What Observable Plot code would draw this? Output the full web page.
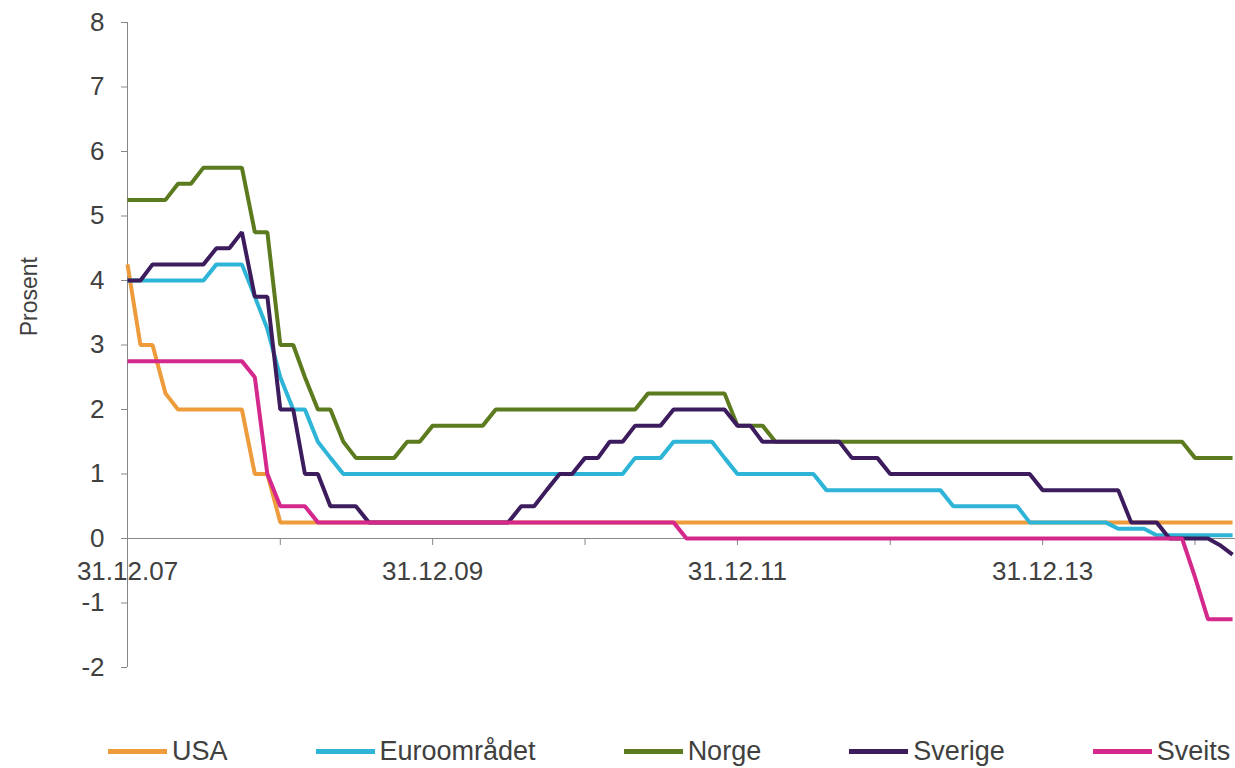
<!DOCTYPE html>
<html>
<head>
<meta charset="utf-8">
<script src="https://cdn.jsdelivr.net/npm/d3@7"></script>
<script src="https://cdn.jsdelivr.net/npm/@observablehq/plot@0.6"></script>
<style>
  body { margin: 0; background: #fff; font-family: "Liberation Sans", Arial, sans-serif; }
  #chart svg { display: block; }
  #legend { display: flex; align-items: center; padding-left: 108px; margin-top: 34px; height: 34px; }
  .item { display: flex; align-items: center; margin-right: 88px; }
  .sw { width: 59px; height: 5px; margin-right: 5px; }
  .lb { font-size: 27px; color: #404040; line-height: 1; }
</style>
</head>
<body>
<div id="chart"></div>
<div id="legend"></div>
<script>
// Month-end observation dates: 31.12.07 ... 31.03.15 (88 months)
const monthEnds = d3.utcMonth
  .range(new Date(Date.UTC(2008, 0, 1)), new Date(Date.UTC(2015, 3, 2)))
  .map(d => d3.utcDay.offset(d, -1));

const names = ["USA", "Euroområdet", "Norge", "Sverige", "Sveits"];
const colors = ["#EE9B3C", "#2DB4D6", "#5C7A1E", "#3D1C5E", "#D4288C"];

// Policy rates, one value per month (Dec 2007, then one row per year)
const usa = [4.25,
  3, 3, 2.25, 2, 2, 2, 2, 2, 2, 1, 1, 0.25,
  0.25, 0.25, 0.25, 0.25, 0.25, 0.25, 0.25, 0.25, 0.25, 0.25, 0.25, 0.25,
  0.25, 0.25, 0.25, 0.25, 0.25, 0.25, 0.25, 0.25, 0.25, 0.25, 0.25, 0.25,
  0.25, 0.25, 0.25, 0.25, 0.25, 0.25, 0.25, 0.25, 0.25, 0.25, 0.25, 0.25,
  0.25, 0.25, 0.25, 0.25, 0.25, 0.25, 0.25, 0.25, 0.25, 0.25, 0.25, 0.25,
  0.25, 0.25, 0.25, 0.25, 0.25, 0.25, 0.25, 0.25, 0.25, 0.25, 0.25, 0.25,
  0.25, 0.25, 0.25, 0.25, 0.25, 0.25, 0.25, 0.25, 0.25, 0.25, 0.25, 0.25,
  0.25, 0.25, 0.25];
const euro = [4,
  4, 4, 4, 4, 4, 4, 4.25, 4.25, 4.25, 3.75, 3.25, 2.5,
  2, 2, 1.5, 1.25, 1, 1, 1, 1, 1, 1, 1, 1,
  1, 1, 1, 1, 1, 1, 1, 1, 1, 1, 1, 1,
  1, 1, 1, 1.25, 1.25, 1.25, 1.5, 1.5, 1.5, 1.5, 1.25, 1,
  1, 1, 1, 1, 1, 1, 0.75, 0.75, 0.75, 0.75, 0.75, 0.75,
  0.75, 0.75, 0.75, 0.75, 0.5, 0.5, 0.5, 0.5, 0.5, 0.5, 0.25, 0.25,
  0.25, 0.25, 0.25, 0.25, 0.25, 0.15, 0.15, 0.15, 0.05, 0.05, 0.05, 0.05,
  0.05, 0.05, 0.05];
const norge = [5.25,
  5.25, 5.25, 5.25, 5.5, 5.5, 5.75, 5.75, 5.75, 5.75, 4.75, 4.75, 3,
  3, 2.5, 2, 2, 1.5, 1.25, 1.25, 1.25, 1.25, 1.5, 1.5, 1.75,
  1.75, 1.75, 1.75, 1.75, 2, 2, 2, 2, 2, 2, 2, 2,
  2, 2, 2, 2, 2.25, 2.25, 2.25, 2.25, 2.25, 2.25, 2.25, 1.75,
  1.75, 1.75, 1.5, 1.5, 1.5, 1.5, 1.5, 1.5, 1.5, 1.5, 1.5, 1.5,
  1.5, 1.5, 1.5, 1.5, 1.5, 1.5, 1.5, 1.5, 1.5, 1.5, 1.5, 1.5,
  1.5, 1.5, 1.5, 1.5, 1.5, 1.5, 1.5, 1.5, 1.5, 1.5, 1.5, 1.25,
  1.25, 1.25, 1.25];
const sverige = [4,
  4, 4.25, 4.25, 4.25, 4.25, 4.25, 4.5, 4.5, 4.75, 3.75, 3.75, 2,
  2, 1, 1, 0.5, 0.5, 0.5, 0.25, 0.25, 0.25, 0.25, 0.25, 0.25,
  0.25, 0.25, 0.25, 0.25, 0.25, 0.25, 0.5, 0.5, 0.75, 1, 1, 1.25,
  1.25, 1.5, 1.5, 1.75, 1.75, 1.75, 2, 2, 2, 2, 2, 1.75,
  1.75, 1.5, 1.5, 1.5, 1.5, 1.5, 1.5, 1.5, 1.25, 1.25, 1.25, 1,
  1, 1, 1, 1, 1, 1, 1, 1, 1, 1, 1, 0.75,
  0.75, 0.75, 0.75, 0.75, 0.75, 0.75, 0.25, 0.25, 0.25, 0, 0, 0,
  0, -0.1, -0.25];
const sveits = [2.75,
  2.75, 2.75, 2.75, 2.75, 2.75, 2.75, 2.75, 2.75, 2.75, 2.5, 1, 0.5,
  0.5, 0.5, 0.25, 0.25, 0.25, 0.25, 0.25, 0.25, 0.25, 0.25, 0.25, 0.25,
  0.25, 0.25, 0.25, 0.25, 0.25, 0.25, 0.25, 0.25, 0.25, 0.25, 0.25, 0.25,
  0.25, 0.25, 0.25, 0.25, 0.25, 0.25, 0.25, 0, 0, 0, 0, 0,
  0, 0, 0, 0, 0, 0, 0, 0, 0, 0, 0, 0,
  0, 0, 0, 0, 0, 0, 0, 0, 0, 0, 0, 0,
  0, 0, 0, 0, 0, 0, 0, 0, 0, 0, 0, -0.6,
  -1.25, -1.25, -1.25];

const seriesValues = [usa, euro, norge, sverige, sveits];

const yTicks = [-2, -1, 0, 1, 2, 3, 4, 5, 6, 7, 8];
const yearEnds = [2007, 2008, 2009, 2010, 2011, 2012, 2013, 2014].map(y => new Date(Date.UTC(y, 11, 31)));
const xLabels = ["31.12.07", "31.12.09", "31.12.11", "31.12.13"];
const xLabelDates = [2007, 2009, 2011, 2013].map(y => new Date(Date.UTC(y, 11, 31)));

const xStart = new Date(Date.UTC(2007, 11, 31));
const xEnd = new Date(Date.UTC(2015, 3, 7));
const gray = "#878787";
const textColor = "#404040";
const font = "'Liberation Sans', Arial, sans-serif";

const chart = Plot.plot({
  width: 1235,
  height: 700,
  marginLeft: 127,
  marginRight: 0,
  marginTop: 22,
  marginBottom: 33,
  style: { fontFamily: font, fontSize: "26px", color: textColor, background: "#fff", overflow: "visible" },
  x: { type: "utc", domain: [xStart, xEnd], axis: null },
  y: { domain: [-2, 8], axis: null },
  marks: [
    Plot.axisY({ ticks: yTicks, tickSize: 6, tickPadding: 17, tickFormat: d => String(d),
      stroke: gray, fill: textColor, fontSize: 26, label: null }),
    Plot.ruleX([xStart], { stroke: gray, strokeWidth: 1 }),
    Plot.ruleY([0], { stroke: gray, strokeWidth: 1 }),
    Plot.ruleX(yearEnds, { x: d => d, y1: 0, y2: 0, insetBottom: -7, stroke: gray }),
    Plot.text(xLabelDates, { x: d => d, y: 0, dy: 33, text: (d, i) => xLabels[i], fontSize: 26, fill: textColor }),
    Plot.text(["Prosent"], { frameAnchor: "left", y: 3.75, dx: -98, rotate: -90, textAnchor: "middle",
      text: d => d, fontSize: 23, fill: textColor }),
    ...seriesValues.map((vals, k) => Plot.line(vals, {
      x: (d, i) => monthEnds[i], y: d => d, stroke: colors[k], strokeWidth: 4, strokeLinejoin: "miter", strokeLinecap: "butt"
    }))
  ]
});
document.getElementById("chart").appendChild(chart);

const legend = document.getElementById("legend");
names.forEach((n, k) => {
  const it = document.createElement("div");
  it.className = "item";
  const sw = document.createElement("div");
  sw.className = "sw";
  sw.style.background = colors[k];
  const lb = document.createElement("span");
  lb.className = "lb";
  lb.textContent = n;
  it.appendChild(sw);
  it.appendChild(lb);
  legend.appendChild(it);
});
</script>
</body>
</html>
